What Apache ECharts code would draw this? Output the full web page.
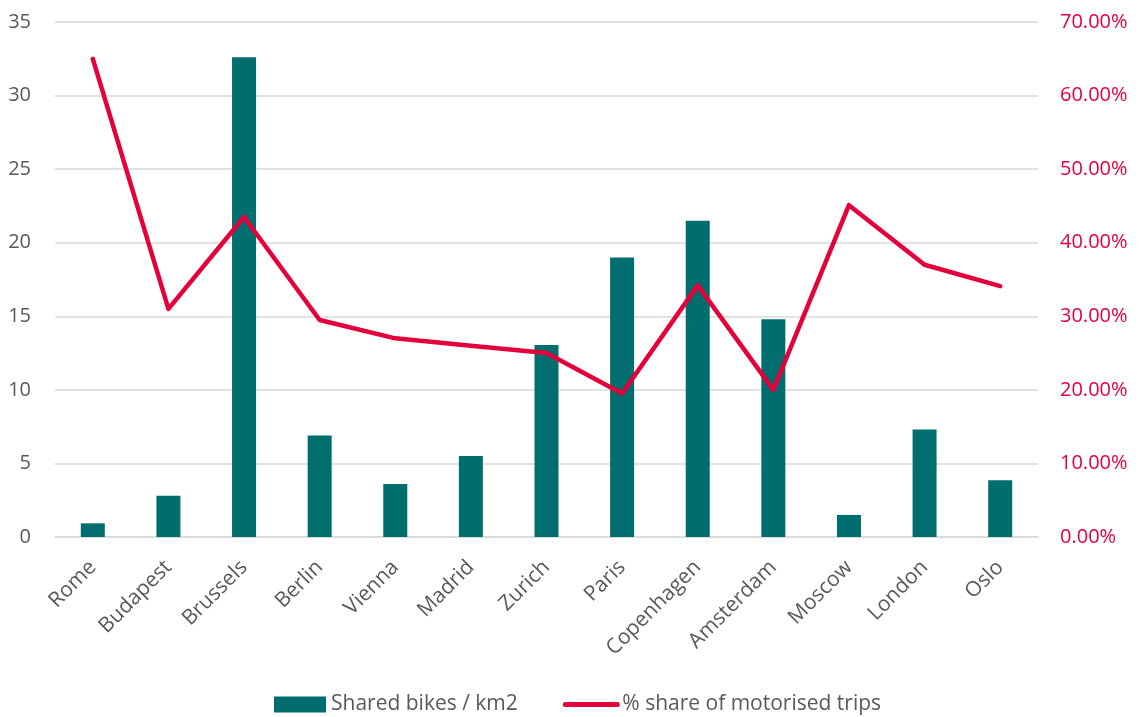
<!DOCTYPE html>
<html><head><meta charset="utf-8">
<script src="https://cdn.jsdelivr.net/npm/echarts@6/dist/echarts.min.js"></script>
<style>html,body{margin:0;padding:0;background:#fff;}#c{width:1141px;height:717px;}</style>
</head><body><div id="c"></div>
<script>
const cities = ['Rome','Budapest','Brussels','Berlin','Vienna','Madrid','Zurich','Paris','Copenhagen','Amsterdam','Moscow','London','Oslo'];
const sharedBikes = [0.93, 2.8, 32.6, 6.9, 3.6, 5.5, 13.05, 19.0, 21.5, 14.8, 1.5, 7.3, 3.85];
const motorisedShare = [0.65, 0.31, 0.435, 0.295, 0.27, 0.26, 0.25, 0.195, 0.342, 0.20, 0.451, 0.37, 0.341];
const seriesNames = ['Shared bikes / km2', '% share of motorised trips'];

const font = 'Open Sans';
const chart = echarts.init(document.getElementById('c'));
chart.setOption({
  animation: false,
  textStyle: {fontFamily: font},
  grid: {left: 55, right: 103, top: 22, bottom: 180, containLabel: false},
  legend: {
    top: 689, left: 269, itemGap: 45, itemWidth: 52, itemHeight: 16,
    textStyle: {fontFamily: font, fontSize: 21, color: '#595959'},
    data: [
      {name: seriesNames[0], icon: 'rect'},
      {name: seriesNames[1], itemStyle: {opacity: 0}, lineStyle: {width: 5, cap: 'round'}}
    ]
  },
  xAxis: {
    type: 'category', data: cities,
    axisLine: {show: true, lineStyle: {color: '#d9d9d9', width: 1.5}},
    axisTick: {show: false},
    axisLabel: {rotate: 45, fontSize: 21, color: '#595959', fontFamily: font, margin: 27, interval: 0}
  },
  yAxis: [
    {type: 'value', min: 0, max: 35, interval: 5,
     axisLine: {show: false}, axisTick: {show: false},
     splitLine: {lineStyle: {color: '#d9d9d9', width: 1.5}},
     axisLabel: {fontSize: 20, color: '#595959', fontFamily: font, margin: 24}},
    {type: 'value', min: 0, max: 0.7, interval: 0.1,
     axisLine: {show: false}, axisTick: {show: false}, splitLine: {show: false},
     axisLabel: {fontSize: 20, color: '#E4003A', fontFamily: font, margin: 22,
       formatter: v => (v * 100).toFixed(2) + '%'}}
  ],
  series: [
    {name: seriesNames[0], type: 'bar', data: sharedBikes, barWidth: 24, yAxisIndex: 0,
     itemStyle: {color: '#006E6E'}},
    {name: seriesNames[1], type: 'line', data: motorisedShare, yAxisIndex: 1,
     symbol: 'none', lineStyle: {color: '#E4003A', width: 4.5, cap: 'round', join: 'round'}, itemStyle: {color: '#E4003A'}}
  ]
});
</script></body></html>
